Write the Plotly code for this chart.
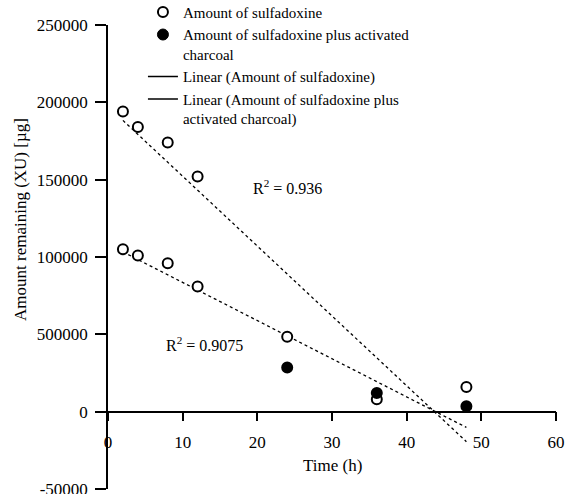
import numpy as np
import plotly.graph_objects as go

# ---- data ----
time_h = [2, 4, 8, 12, 24, 36, 48]
sulfadoxine = [194000, 184000, 174000, 152000, 48500, 8000, 16000]
sulfadoxine_charcoal = [105000, 101000, 96000, 81000, 28500, 12000, 3500]
charcoal_open_until_h = 12  # points up to this time are drawn hollow in the source

x_ticks = [0, 10, 20, 30, 40, 50, 60]
y_ticks = [-50000, 0, 50000, 100000, 150000, 200000, 250000]
y_tick_labels = ["-50000", "0", "500000", "100000", "150000", "200000", "250000"]

r2_upper_label = "R<sup>2</sup> = 0.936"
r2_lower_label = "R<sup>2</sup> = 0.9075"

legend_names = [
    "Amount of sulfadoxine",
    "Amount of sulfadoxine plus activated<br>charcoal",
    "Linear (Amount of sulfadoxine)",
    "Linear (Amount of sulfadoxine plus<br>activated charcoal)",
]

FONT = "Liberation Serif, Times New Roman, serif"

x_arr = np.array(time_h, dtype=float)
fit1 = np.polyfit(x_arr, np.array(sulfadoxine, dtype=float), 1)
fit2 = np.polyfit(x_arr, np.array(sulfadoxine_charcoal, dtype=float), 1)
x_line = [min(time_h), max(time_h)]

fig = go.Figure()

# trend lines (dotted)
fig.add_trace(go.Scatter(x=x_line, y=list(np.polyval(fit1, x_line)), mode="lines",
                         line=dict(color="black", width=1.3, dash="dot"),
                         showlegend=False, hoverinfo="skip"))
fig.add_trace(go.Scatter(x=x_line, y=list(np.polyval(fit2, x_line)), mode="lines",
                         line=dict(color="black", width=1.3, dash="dot"),
                         showlegend=False, hoverinfo="skip"))

# data markers
fig.add_trace(go.Scatter(x=time_h, y=sulfadoxine, mode="markers",
                         marker=dict(size=10, color="white", symbol="circle",
                                     line=dict(color="black", width=2)),
                         showlegend=False))
charcoal_fill = ["white" if t <= charcoal_open_until_h else "black" for t in time_h]
fig.add_trace(go.Scatter(x=time_h, y=sulfadoxine_charcoal, mode="markers",
                         marker=dict(size=10, color=charcoal_fill, symbol="circle",
                                     line=dict(color="black", width=2)),
                         showlegend=False))

# legend entries
fig.add_trace(go.Scatter(x=[None], y=[None], mode="markers", name=legend_names[0],
                         marker=dict(size=10, color="white", line=dict(color="black", width=2))))
fig.add_trace(go.Scatter(x=[None], y=[None], mode="markers", name=legend_names[1],
                         marker=dict(size=11, color="black", line=dict(color="black", width=1))))
fig.add_trace(go.Scatter(x=[None], y=[None], mode="lines", name=legend_names[2],
                         line=dict(color="black", width=1.5)))
fig.add_trace(go.Scatter(x=[None], y=[None], mode="lines", name=legend_names[3],
                         line=dict(color="black", width=1.5)))

y_min, y_max = min(y_ticks), max(y_ticks)

fig.update_layout(
    width=572, height=494,
    margin=dict(l=108, r=16, t=25, b=5, autoexpand=False),
    plot_bgcolor="white", paper_bgcolor="white",
    font=dict(family=FONT, size=17, color="black"),
    showlegend=True,
    legend=dict(x=0.078, y=1.063, xanchor="left", yanchor="top",
                bgcolor="rgba(0,0,0,0)", font=dict(size=15, family=FONT),
                valign="top", tracegroupgap=0, itemwidth=30),
    xaxis=dict(range=[0, 60], tickvals=x_ticks, showline=True, linecolor="black",
               linewidth=1.5, ticks="outside", ticklen=9, tickwidth=1.5, tickcolor="black",
               showgrid=False, zeroline=False, anchor="free", automargin=False,
               ticklabelstandoff=6, ticklabeloverflow="allow",
               position=(0 - y_min) / (y_max - y_min)),
    yaxis=dict(range=[y_min, y_max], tickvals=y_ticks, ticktext=y_tick_labels,
               showline=True, linecolor="black", linewidth=1.5, ticks="outside",
               ticklen=11, tickwidth=1.5, tickcolor="black", automargin=False,
               ticklabelstandoff=4, ticklabeloverflow="allow",
               showgrid=False, zeroline=False),
    annotations=[
        dict(text=r2_upper_label, x=24.1, y=145000, xref="x", yref="y",
             showarrow=False, font=dict(size=16, family=FONT)),
        dict(text=r2_lower_label, x=12.9, y=44000, xref="x", yref="y",
             showarrow=False, font=dict(size=16, family=FONT)),
        dict(text="Time (h)", x=30.1, y=(489 - 465) / 464, xref="x", yref="paper",
             xanchor="center", yanchor="middle",
             showarrow=False, font=dict(size=17, family=FONT)),
        dict(text="Amount remaining (XU) [µg]", x=-87 / 448, y=(489 - 220) / 464,
             xref="paper", yref="paper", textangle=-90, showarrow=False,
             xanchor="center", yanchor="middle", font=dict(size=17, family=FONT)),
    ],
)

# remove the page's default 8px body margin so the figure fills the window
fig.write_html("out.html", config={"displayModeBar": False},
               post_script="document.body.style.margin='0px';")
